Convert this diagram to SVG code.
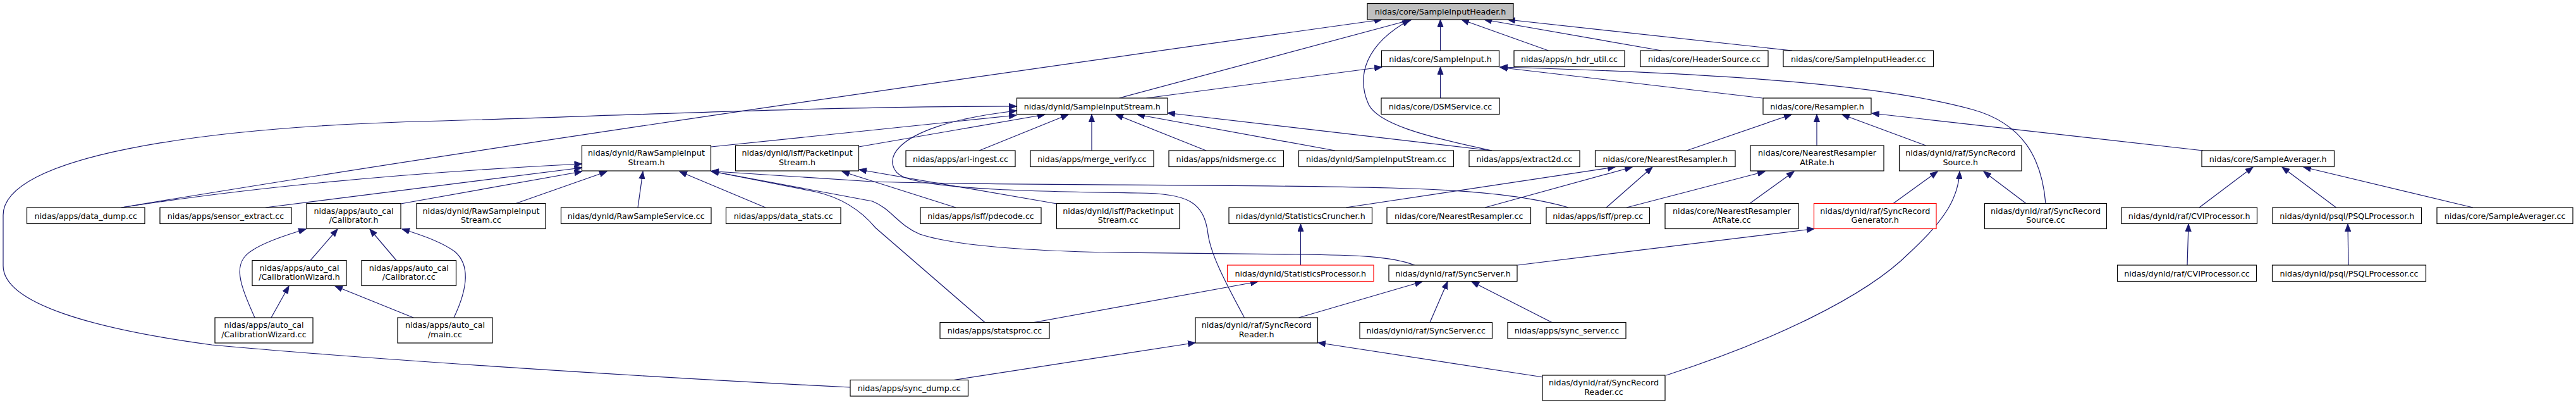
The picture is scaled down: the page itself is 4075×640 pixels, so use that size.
<svg xmlns="http://www.w3.org/2000/svg" width="4075" height="640" viewBox="0 0 4075 640">
<defs>
<marker id="a" markerWidth="13" markerHeight="10" refX="12" refY="5" orient="auto" markerUnits="userSpaceOnUse">
<path d="M0.5,0.5 L12,5 L0.5,9.5 z" fill="#191970" stroke="#191970" stroke-width="1"/>
</marker>
<style>
.n rect{fill:#fff;stroke:#000;stroke-width:1.2}
.g rect{fill:#bfbfbf}
.r rect{stroke:#f00}
text{font-family:"DejaVu Sans","Liberation Sans",sans-serif;font-size:12.7px;text-anchor:middle;fill:#000}
#edges path{fill:none;stroke:#191970;stroke-width:1.2;marker-end:url(#a)}
</style>
</defs>
<rect x="0" y="0" width="4075" height="640" fill="#fff"/>
<g id="edges">
<path d="M2278.5,80 L2278.5,31"/>
<path d="M2449.5,80 L2312,31"/>
<path d="M2628.5,80 L2348,31"/>
<path d="M2835,80 L2385,31"/>
<path d="M1770.5,155 L2233,31"/>
<path d="M192,328 Q900,210 2186,31"/>
<path d="M2360,238 C2250,215 2180,195 2165,165 C2145,120 2160,70 2230,31.5"/>
<path d="M1813.5,155 L2186,106"/>
<path d="M2278.5,155 L2278.5,106"/>
<path d="M2788,155 L2373,106.5"/>
<path d="M3236,321.5 C3230,250 3200,195 3120,173 C3000,140 2800,118 2373,106"/>
<path d="M1345,612 C1000,595 550,565 335,545 C150,520 5,480 5,420 L5,340 C5,250 300,200 700,191 C1000,182 1300,168 1608,168"/>
<path d="M1968.5,502 C1935,440 1915,400 1911,370 C1905,320 1880,305 1800,305 C1650,303 1480,300 1430,280 C1395,265 1390,200 1608,175"/>
<path d="M1125,232 L1608,182"/>
<path d="M1358.5,232 L1653,181"/>
<path d="M1549,238 L1690,181"/>
<path d="M1727,238 L1727,181"/>
<path d="M1908,238 L1765,181"/>
<path d="M2112,238 L1799,181"/>
<path d="M2360,238 L1847,178.5"/>
<path d="M2668,238 L2834,181"/>
<path d="M2874,230 L2874,181"/>
<path d="M3046.5,230 L2914,181"/>
<path d="M3485,238 L2961,179"/>
<path d="M192,328 Q500,280 920.5,259"/>
<path d="M420,328 L920.5,265"/>
<path d="M634,322 L920.5,271"/>
<path d="M816,321.5 L960,271"/>
<path d="M1009,328 L1017,271"/>
<path d="M1211,328 L1075,271"/>
<path d="M2481,328 C2420,310 2330,300 2200,297 C1900,290 1600,294 1380,287 L1125,270.5"/>
<path d="M2238,419 C2200,405 2150,403 2050,402 L1761,399 C1600,396 1500,385 1455,370 C1420,355 1410,330 1380,318 L1125,270.5"/>
<path d="M1558,509.5 L1385,360 C1360,330 1330,312 1290,303 L1125,270.5"/>
<path d="M1512,328 L1332,271"/>
<path d="M1672,322 L1359,268"/>
<path d="M403,502 C380,450 365,415 400,395 C420,382 450,372 484,362"/>
<path d="M491,411.5 L534,362"/>
<path d="M627,411.5 L585,362"/>
<path d="M718,502 C738,460 745,420 720,398 C700,383 670,372 636,362"/>
<path d="M429,502 L457,452"/>
<path d="M654,502 L530,452"/>
<path d="M2129,328 L2555,264"/>
<path d="M2349,328 L2582,264"/>
<path d="M2541,328 L2614,264"/>
<path d="M2573,328 L2792,271"/>
<path d="M2768,321.5 L2838,271"/>
<path d="M2995,321.5 L3065,271"/>
<path d="M2636,593 C2800,540 2950,470 3020,400 C3080,345 3098,310 3100,271"/>
<path d="M3205,321.5 L3138,271"/>
<path d="M3479,328 L3564,264"/>
<path d="M3695.5,328 L3610,264"/>
<path d="M3912,328 L3644,264"/>
<path d="M3460,419 L3462,354"/>
<path d="M3715,419 L3714,354"/>
<path d="M2400.5,419 L2870,361.5"/>
<path d="M2057.5,419 L2057.5,354"/>
<path d="M1635.5,509.5 L1990,445"/>
<path d="M2054.5,502 L2250,445"/>
<path d="M2262,509.5 L2290,445"/>
<path d="M2455,509.5 L2328,445"/>
<path d="M1509,600.5 L1891,541.5"/>
<path d="M2441,596 L2085,541.5"/>
</g>
<g id="n0" class="n g"><rect x="2163" y="5.5" width="231" height="25.5"/><text x="2278.5" y="23">nidas/core/SampleInputHeader.h</text></g>
<g id="n1" class="n"><rect x="2185.5" y="80" width="186" height="25.5"/><text x="2278.5" y="97.5">nidas/core/SampleInput.h</text></g>
<g id="n2" class="n"><rect x="2395" y="80" width="175" height="25.5"/><text x="2482.5" y="97.5">nidas/apps/n_hdr_util.cc</text></g>
<g id="n3" class="n"><rect x="2595" y="80" width="202" height="25.5"/><text x="2696" y="97.5">nidas/core/HeaderSource.cc</text></g>
<g id="n4" class="n"><rect x="2821" y="80" width="237.5" height="25.5"/><text x="2939.75" y="97.5">nidas/core/SampleInputHeader.cc</text></g>
<g id="n5" class="n"><rect x="1608.5" y="155" width="238.5" height="25.5"/><text x="1727.75" y="172.5">nidas/dynld/SampleInputStream.h</text></g>
<g id="n6" class="n"><rect x="2185" y="155" width="187" height="25.5"/><text x="2278.5" y="172.5">nidas/core/DSMService.cc</text></g>
<g id="n7" class="n"><rect x="2789" y="155" width="171" height="25.5"/><text x="2874.5" y="172.5">nidas/core/Resampler.h</text></g>
<g id="n8" class="n"><rect x="920.5" y="230" width="204" height="40"/><text x="1022.5" y="246">nidas/dynld/RawSampleInput</text><text x="1022.5" y="260.5">Stream.h</text></g>
<g id="n9" class="n"><rect x="1163.5" y="230" width="195" height="40"/><text x="1261" y="246">nidas/dynld/isff/PacketInput</text><text x="1261" y="260.5">Stream.h</text></g>
<g id="n10" class="n"><rect x="1433" y="238" width="173" height="25.5"/><text x="1519.5" y="255.5">nidas/apps/arl-ingest.cc</text></g>
<g id="n11" class="n"><rect x="1630" y="238" width="195" height="25.5"/><text x="1727.5" y="255.5">nidas/apps/merge_verify.cc</text></g>
<g id="n12" class="n"><rect x="1849" y="238" width="181.5" height="25.5"/><text x="1939.75" y="255.5">nidas/apps/nidsmerge.cc</text></g>
<g id="n13" class="n"><rect x="2054.5" y="238" width="245" height="25.5"/><text x="2177" y="255.5">nidas/dynld/SampleInputStream.cc</text></g>
<g id="n14" class="n"><rect x="2324" y="238" width="175" height="25.5"/><text x="2411.5" y="255.5">nidas/apps/extract2d.cc</text></g>
<g id="n15" class="n"><rect x="2523.5" y="238" width="221.5" height="25.5"/><text x="2634.25" y="255.5">nidas/core/NearestResampler.h</text></g>
<g id="n16" class="n"><rect x="2769" y="230" width="211" height="40"/><text x="2874.5" y="246">nidas/core/NearestResampler</text><text x="2874.5" y="260.5">AtRate.h</text></g>
<g id="n17" class="n"><rect x="3004.5" y="230" width="193.5" height="40"/><text x="3101.25" y="246">nidas/dynld/raf/SyncRecord</text><text x="3101.25" y="260.5">Source.h</text></g>
<g id="n18" class="n"><rect x="3483" y="238" width="209.5" height="25.5"/><text x="3587.75" y="255.5">nidas/core/SampleAverager.h</text></g>
<g id="n19" class="n"><rect x="42.5" y="328" width="186.5" height="25.5"/><text x="135.75" y="345.5">nidas/apps/data_dump.cc</text></g>
<g id="n20" class="n"><rect x="253" y="328" width="208" height="25.5"/><text x="357" y="345.5">nidas/apps/sensor_extract.cc</text></g>
<g id="n21" class="n"><rect x="485" y="321.5" width="149" height="40"/><text x="559.5" y="337.5">nidas/apps/auto_cal</text><text x="559.5" y="352">/Calibrator.h</text></g>
<g id="n22" class="n"><rect x="659" y="321.5" width="204" height="40"/><text x="761" y="337.5">nidas/dynld/RawSampleInput</text><text x="761" y="352">Stream.cc</text></g>
<g id="n23" class="n"><rect x="887.5" y="328" width="237.5" height="25.5"/><text x="1006.25" y="345.5">nidas/dynld/RawSampleService.cc</text></g>
<g id="n24" class="n"><rect x="1148.5" y="328" width="181.5" height="25.5"/><text x="1239.25" y="345.5">nidas/apps/data_stats.cc</text></g>
<g id="n25" class="n"><rect x="1456" y="328" width="191" height="25.5"/><text x="1551.5" y="345.5">nidas/apps/isff/pdecode.cc</text></g>
<g id="n26" class="n"><rect x="1671.5" y="321.5" width="194.5" height="40"/><text x="1768.75" y="337.5">nidas/dynld/isff/PacketInput</text><text x="1768.75" y="352">Stream.cc</text></g>
<g id="n27" class="n"><rect x="1944" y="328" width="226.5" height="25.5"/><text x="2057.25" y="345.5">nidas/dynld/StatisticsCruncher.h</text></g>
<g id="n28" class="n"><rect x="2194" y="328" width="227.5" height="25.5"/><text x="2307.75" y="345.5">nidas/core/NearestResampler.cc</text></g>
<g id="n29" class="n"><rect x="2446" y="328" width="163.5" height="25.5"/><text x="2527.75" y="345.5">nidas/apps/isff/prep.cc</text></g>
<g id="n30" class="n"><rect x="2634" y="321.5" width="211" height="40"/><text x="2739.5" y="337.5">nidas/core/NearestResampler</text><text x="2739.5" y="352">AtRate.cc</text></g>
<g id="n31" class="n r"><rect x="2869.5" y="321.5" width="193.5" height="40"/><text x="2966.25" y="337.5">nidas/dynld/raf/SyncRecord</text><text x="2966.25" y="352">Generator.h</text></g>
<g id="n32" class="n"><rect x="3139.5" y="321.5" width="193" height="40"/><text x="3236" y="337.5">nidas/dynld/raf/SyncRecord</text><text x="3236" y="352">Source.cc</text></g>
<g id="n33" class="n"><rect x="3356" y="328" width="214.5" height="25.5"/><text x="3463.25" y="345.5">nidas/dynld/raf/CVIProcessor.h</text></g>
<g id="n34" class="n"><rect x="3595" y="328" width="235.5" height="25.5"/><text x="3712.75" y="345.5">nidas/dynld/psql/PSQLProcessor.h</text></g>
<g id="n35" class="n"><rect x="3855" y="328" width="215" height="25.5"/><text x="3962.5" y="345.5">nidas/core/SampleAverager.cc</text></g>
<g id="n36" class="n"><rect x="399" y="411.5" width="149" height="40"/><text x="473.5" y="427.5">nidas/apps/auto_cal</text><text x="473.5" y="442">/CalibrationWizard.h</text></g>
<g id="n37" class="n"><rect x="572" y="411.5" width="149.5" height="40"/><text x="646.75" y="427.5">nidas/apps/auto_cal</text><text x="646.75" y="442">/Calibrator.cc</text></g>
<g id="n38" class="n r"><rect x="1941.5" y="419" width="231.5" height="25.5"/><text x="2057.25" y="436.5">nidas/dynld/StatisticsProcessor.h</text></g>
<g id="n39" class="n"><rect x="2197" y="419" width="203" height="25.5"/><text x="2298.5" y="436.5">nidas/dynld/raf/SyncServer.h</text></g>
<g id="n40" class="n"><rect x="3349.5" y="419" width="220" height="25.5"/><text x="3459.5" y="436.5">nidas/dynld/raf/CVIProcessor.cc</text></g>
<g id="n41" class="n"><rect x="3594.5" y="419" width="243" height="25.5"/><text x="3716" y="436.5">nidas/dynld/psql/PSQLProcessor.cc</text></g>
<g id="n42" class="n"><rect x="340" y="502" width="155" height="40"/><text x="417.5" y="518">nidas/apps/auto_cal</text><text x="417.5" y="532.5">/CalibrationWizard.cc</text></g>
<g id="n43" class="n"><rect x="629" y="502" width="150" height="40"/><text x="704" y="518">nidas/apps/auto_cal</text><text x="704" y="532.5">/main.cc</text></g>
<g id="n44" class="n"><rect x="1487" y="509.5" width="173" height="25.5"/><text x="1573.5" y="527">nidas/apps/statsproc.cc</text></g>
<g id="n45" class="n"><rect x="1891" y="502" width="193.5" height="40"/><text x="1987.75" y="518">nidas/dynld/raf/SyncRecord</text><text x="1987.75" y="532.5">Reader.h</text></g>
<g id="n46" class="n"><rect x="2151" y="509.5" width="209.5" height="25.5"/><text x="2255.75" y="527">nidas/dynld/raf/SyncServer.cc</text></g>
<g id="n47" class="n"><rect x="2385" y="509.5" width="187" height="25.5"/><text x="2478.5" y="527">nidas/apps/sync_server.cc</text></g>
<g id="n48" class="n"><rect x="1345" y="600.5" width="186.5" height="25.5"/><text x="1438.25" y="618">nidas/apps/sync_dump.cc</text></g>
<g id="n49" class="n"><rect x="2440" y="593" width="194" height="40"/><text x="2537" y="609">nidas/dynld/raf/SyncRecord</text><text x="2537" y="623.5">Reader.cc</text></g>
</svg>
